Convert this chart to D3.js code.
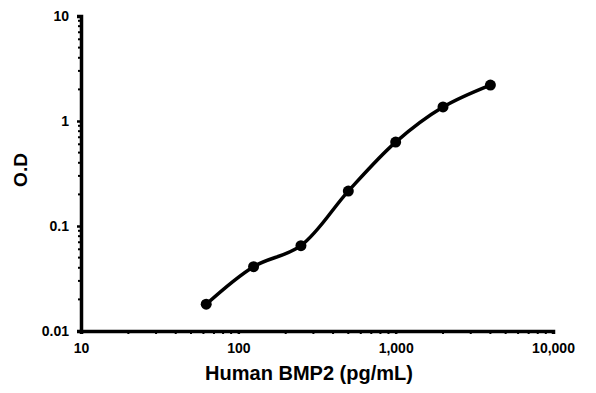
<!DOCTYPE html>
<html>
<head>
<meta charset="utf-8">
<script src="https://cdn.jsdelivr.net/npm/d3@7"></script>
<style>
  body { margin: 0; background: #fff; }
  text { font-family: "Liberation Sans", Arial, sans-serif; font-weight: bold; fill: #000; }
</style>
</head>
<body>
<div id="chart"></div>
<script>
// data
var concentrations = [62.5, 125, 250, 500, 1000, 2000, 4000];
var odValues = [0.018, 0.041, 0.065, 0.215, 0.63, 1.36, 2.2];
var xTicks = [10, 100, 1000, 10000];
var yTicks = [0.01, 0.1, 1, 10];

var margin = {top: 16, right: 43, bottom: 62, left: 81},
    width = 596 - margin.left - margin.right,
    height = 393 - margin.top - margin.bottom;

var svg = d3.select("#chart")
  .append("svg")
    .attr("width", 596)
    .attr("height", 393)
  .append("g")
    .attr("transform", "translate(" + margin.left + "," + margin.top + ")");

var x = d3.scaleLog()
    .domain([10, 10000])
    .range([0, width]);

var y = d3.scaleLog()
    .domain([0.01, 10])
    .range([height, 0]);

// minor ticks
var xMinor = [];
[10, 100, 1000].forEach(function(d) { for (var i = 2; i <= 9; i++) xMinor.push(d * i); });
var yMinor = [];
[0.01, 0.1, 1].forEach(function(d) { for (var i = 2; i <= 9; i++) yMinor.push(d * i); });

svg.append("g")
  .selectAll("line")
  .data(xMinor)
  .enter()
  .append("line")
    .attr("x1", function(d) { return x(d); })
    .attr("x2", function(d) { return x(d); })
    .attr("y1", height)
    .attr("y2", height + 3)
    .attr("stroke", "#000")
    .attr("stroke-width", 2);

svg.append("g")
  .selectAll("line")
  .data(yMinor)
  .enter()
  .append("line")
    .attr("x1", -3)
    .attr("x2", 0)
    .attr("y1", function(d) { return y(d); })
    .attr("y2", function(d) { return y(d); })
    .attr("stroke", "#000")
    .attr("stroke-width", 2);

// X axis
var xAxis = svg.append("g")
    .attr("transform", "translate(0," + height + ")")
    .call(d3.axisBottom(x)
      .tickValues(xTicks)
      .tickSize(3)
      .tickPadding(9)
      .tickFormat(d3.format(",")));

// Y axis
var yAxis = svg.append("g")
    .call(d3.axisLeft(y)
      .tickValues(yTicks)
      .tickSize(4)
      .tickPadding(8)
      .tickFormat(function(d) { return String(d); }));

[xAxis, yAxis].forEach(function(ax) {
  ax.select(".domain").attr("stroke-width", 3.5).attr("stroke", "#000");
  ax.selectAll(".tick line").attr("stroke-width", 2.5).attr("stroke", "#000");
  ax.selectAll("text")
    .style("font-family", "'Liberation Sans', Arial, sans-serif")
    .style("font-weight", "bold")
    .style("font-size", "14px")
    .attr("fill", "#000");
});

// X axis label
svg.append("text")
    .attr("transform", "translate(" + (309 - margin.left) + "," + (height + 49) + ")")
    .style("text-anchor", "middle")
    .style("font-size", "20px")
    .text("Human BMP2 (pg/mL)");

// Y axis label
svg.append("text")
    .attr("transform", "rotate(-90)")
    .attr("x", 0 - (170 - margin.top))
    .attr("y", 0 - margin.left + 27)
    .style("text-anchor", "middle")
    .style("font-size", "19px")
    .text("O.D");

// curve
var points = concentrations.map(function(c, i) { return [c, odValues[i]]; });

svg.append("path")
    .datum(points)
    .attr("fill", "none")
    .attr("stroke", "#000")
    .attr("stroke-width", 3.5)
    .attr("d", d3.line()
      .curve(d3.curveCatmullRom.alpha(0.5))
      .x(function(d) { return x(d[0]); })
      .y(function(d) { return y(d[1]); }));

// dots
svg.append("g")
  .selectAll("circle")
  .data(points)
  .enter()
  .append("circle")
    .attr("cx", function(d) { return x(d[0]); })
    .attr("cy", function(d) { return y(d[1]); })
    .attr("r", 5.5)
    .style("fill", "#000");
</script>
</body>
</html>
